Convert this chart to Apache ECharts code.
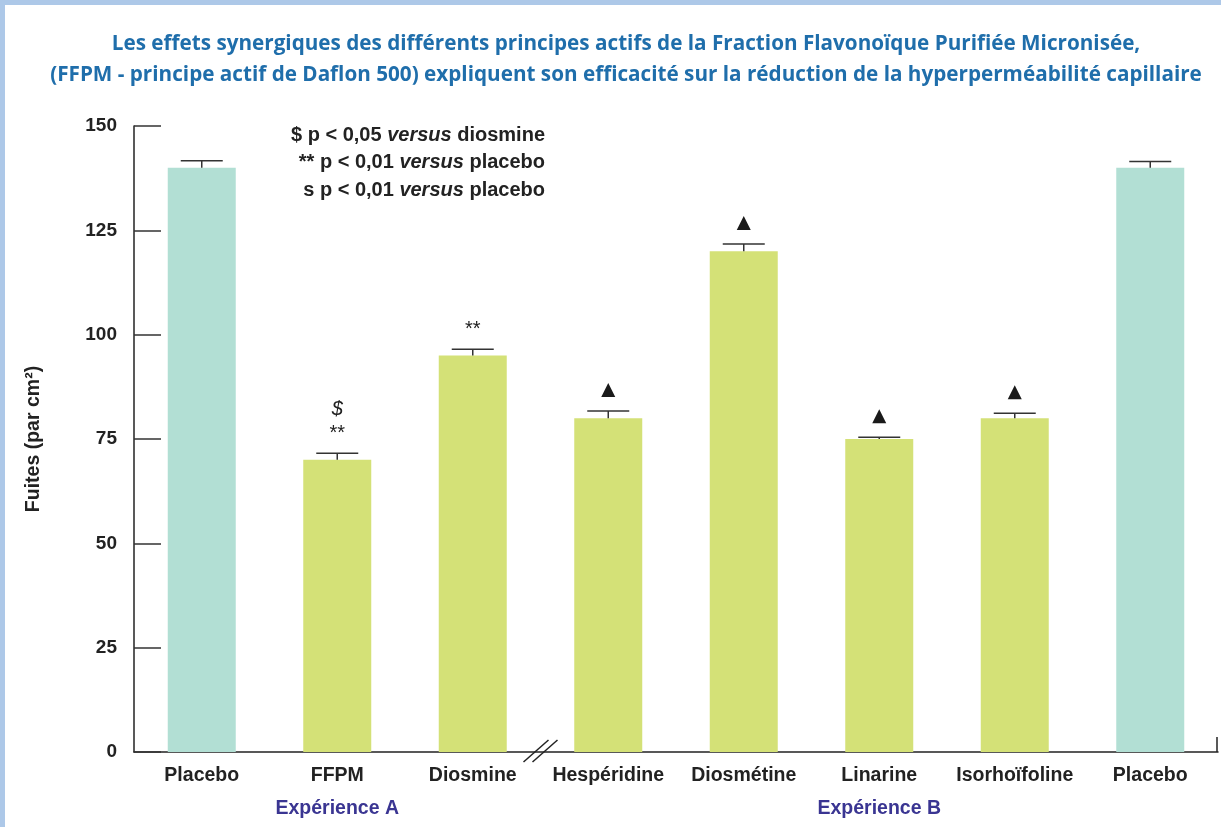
<!DOCTYPE html>
<html>
<head>
<meta charset="utf-8">
<script src="https://cdn.jsdelivr.net/npm/echarts@6/dist/echarts.min.js"></script>
<style>
  body { margin: 0; background: #fff; }
  #wrap {
    width: 1221px;
    height: 827px;
    box-sizing: border-box;
    border-left: 5px solid #adc8e8;
    border-top: 5px solid #adc8e8;
  }
  #chart { width: 1216px; height: 822px; }
</style>
</head>
<body>
<div id="wrap"><div id="chart"></div></div>
<script>
const categories = ['Placebo', 'FFPM', 'Diosmine', 'Hespéridine', 'Diosmétine', 'Linarine', 'Isorhoïfoline', 'Placebo'];
const fuites = [140, 70, 95, 80, 120, 75, 80, 140];
const errTop = [141.7, 71.6, 96.5, 81.7, 121.7, 75.4, 81.2, 141.5];
const signif = ['', '$|**', '**', '▲', '▲', '▲', '▲', ''];
const groupLabels = ['', 'Expérience A', '', '', '', 'Expérience B', '', ''];
const placeboIdx = [0, 7];
const legendLines = [
  ['$ p < 0,05 ', 'versus', ' diosmine'],
  ['** p < 0,01 ', 'versus', ' placebo'],
  ['s p < 0,01 ', 'versus', ' placebo']
];

const FONT = '"Liberation Sans", Arial, sans-serif';
const TEAL = '#b2dfd4';
const GREEN = '#d4e177';

const chart = echarts.init(document.getElementById('chart'));

function renderErr (params, api) {
  const i = api.value(0);
  const top = api.coord([i, api.value(1)]);
  const base = api.coord([i, api.value(2)]);
  const x = top[0];
  const children = [
    { type: 'line', shape: { x1: x, y1: base[1], x2: x, y2: top[1] }, style: { stroke: '#333', lineWidth: 1.5 } },
    { type: 'line', shape: { x1: x - 21, y1: top[1], x2: x + 21, y2: top[1] }, style: { stroke: '#333', lineWidth: 1.5 } }
  ];
  const s = signif[i];
  if (s === '▲') {
    const cy = top[1] - 21;
    children.push({ type: 'polygon', shape: { points: [[x - 7, cy + 7], [x + 7, cy + 7], [x, cy - 7]] }, style: { fill: '#1a1a1a' } });
  } else if (s) {
    const parts = s.split('|');
    let y = top[1] - 10;
    for (let k = parts.length - 1; k >= 0; k--) {
      const isDollar = parts[k] === '$';
      children.push({
        type: 'text',
        style: {
          x: x, y: isDollar ? y - 2 : y, text: parts[k], align: 'center', verticalAlign: 'bottom',
          font: (isDollar ? 'italic ' : '') + '20px ' + FONT, fill: '#222'
        }
      });
      y -= 22;
    }
  }
  return { type: 'group', children: children };
}

const legendGraphics = legendLines.map(function (l, k) {
  return {
    type: 'text',
    right: 1216 - 540,
    top: 120 + k * 27.5,
    style: {
      text: '{n|' + l[0] + '}{i|' + l[1] + '}{n|' + l[2] + '}',
      rich: {
        n: { fontFamily: FONT, fontWeight: 'bold', fontSize: 20, fill: '#222' },
        i: { fontFamily: FONT, fontWeight: 'bold', fontStyle: 'italic', fontSize: 20, fill: '#222' }
      }
    }
  };
});

const option = {
  animation: false,
  backgroundColor: '#fff',
  textStyle: { fontFamily: FONT },
  title: {
    text: 'Les effets synergiques des différents principes actifs de la Fraction Flavonoïque Purifiée Micronisée,\n(FFPM - principe actif de Daflon 500) expliquent son efficacité sur la réduction de la hyperperméabilité capillaire',
    left: 616,
    top: 19,
    textAlign: 'center',
    textStyle: { color: '#1f6eab', fontFamily: '"Open Sans"', fontWeight: 'bold', fontSize: 20.7, lineHeight: 31 }
  },
  grid: { left: 129, right: 3, top: 121, bottom: 75 },
  xAxis: {
    type: 'category',
    data: categories,
    axisTick: { show: false },
    axisLine: { lineStyle: { color: '#222', width: 1.5 } },
    axisLabel: {
      margin: 13,
      interval: 0,
      formatter: function (v, i) {
        return '{a|' + v + '}\n{b|' + (groupLabels[i] || ' ') + '}';
      },
      rich: {
        a: { fontFamily: FONT, fontWeight: 'bold', fontSize: 19.5, color: '#222', lineHeight: 22 },
        b: { fontFamily: FONT, fontWeight: 'bold', fontSize: 19.5, color: '#3a3592', lineHeight: 22, padding: [22, 0, 0, 0] }
      }
    }
  },
  yAxis: {
    type: 'value',
    min: 0,
    max: 150,
    interval: 25,
    name: 'Fuites (par cm²)',
    nameLocation: 'middle',
    nameGap: 90,
    nameTextStyle: { fontFamily: FONT, fontWeight: 'bold', fontSize: 19.5, color: '#222' },
    splitLine: { show: false },
    axisLine: { show: true, lineStyle: { color: '#222', width: 1.5 } },
    axisTick: { show: true, inside: true, length: 27, lineStyle: { color: '#333', width: 1.5 } },
    axisLabel: { margin: 17, fontFamily: FONT, fontWeight: 'bold', fontSize: 19, color: '#222' }
  },
  series: [
    {
      type: 'bar',
      barWidth: 68,
      data: fuites.map(function (v, i) {
        return { value: v, itemStyle: { color: placeboIdx.indexOf(i) >= 0 ? TEAL : GREEN } };
      })
    },
    {
      type: 'custom',
      renderItem: renderErr,
      z: 5,
      data: fuites.map(function (v, i) { return [i, errTop[i], v]; })
    }
  ],
  graphic: legendGraphics
};

chart.setOption(option);

// axis break marks between Diosmine and Hespéridine, and the small end tick
const p2 = chart.convertToPixel({ xAxisIndex: 0, yAxisIndex: 0 }, [2, 0]);
const p3 = chart.convertToPixel({ xAxisIndex: 0, yAxisIndex: 0 }, [3, 0]);
const bx = (p2[0] + p3[0]) / 2;
const by = p2[1];
const gridRight = 1216 - 3;
chart.setOption({
  graphic: legendGraphics.concat([
    { type: 'line', shape: { x1: bx - 17, y1: by + 10, x2: bx + 8, y2: by - 12 }, style: { stroke: '#222', lineWidth: 1.5 } },
    { type: 'line', shape: { x1: bx - 8, y1: by + 10, x2: bx + 17, y2: by - 12 }, style: { stroke: '#222', lineWidth: 1.5 } },
    { type: 'line', shape: { x1: gridRight - 1, y1: by, x2: gridRight - 1, y2: by - 15 }, style: { stroke: '#222', lineWidth: 1.5 } }
  ])
});
</script>
</body>
</html>
